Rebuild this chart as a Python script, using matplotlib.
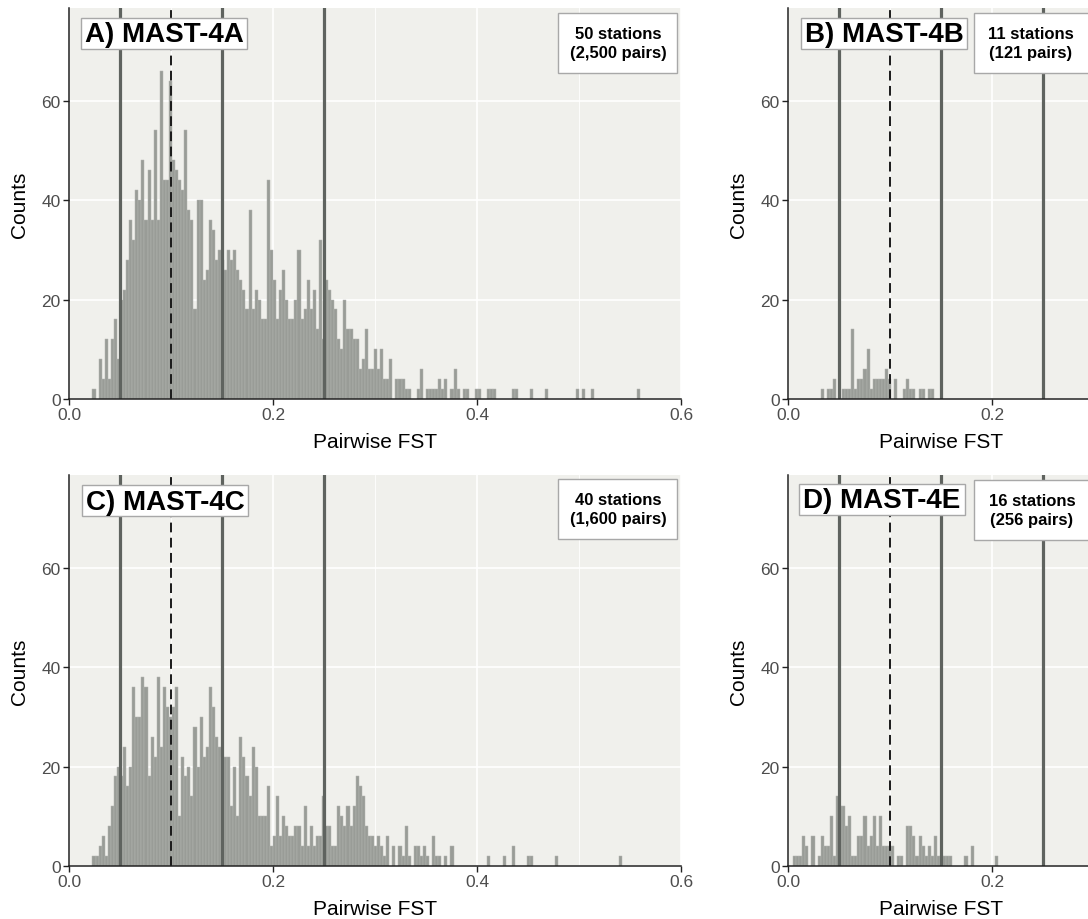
import matplotlib
matplotlib.use("Agg")
import matplotlib.pyplot as plt
from matplotlib.patches import Rectangle
import numpy as np

plt.rcParams['font.family'] = ['Liberation Sans', 'DejaVu Sans']

# Histogram binning of pairwise FST values
BIN_WIDTH = 0.003
BIN_ORIGIN = 0.002

# Reference thresholds
solid_thresholds = [0.05, 0.15, 0.25]
dashed_threshold = 0.10

# Counts per bin, starting at bin index *_first
a_first = 7
a_counts = [2, 0, 8, 4, 12, 4, 12, 16, 8, 20, 22, 28, 36, 32, 42, 40, 48, 36, 46, 36,
            54, 36, 66, 44, 44, 64, 48, 46, 44, 42, 54, 38, 36, 18, 40, 40, 24, 26, 36, 34,
            28, 30, 28, 26, 30, 28, 30, 26, 24, 22, 18, 38, 18, 22, 20, 16, 16, 44, 30, 24,
            16, 22, 26, 20, 16, 16, 20, 30, 16, 18, 24, 18, 22, 14, 32, 12, 24, 22, 20, 18,
            12, 10, 20, 14, 14, 12, 12, 6, 8, 14, 6, 6, 10, 6, 10, 4, 4, 8, 0, 4,
            4, 4, 2, 2, 0, 0, 2, 6, 0, 2, 2, 2, 2, 4, 2, 4, 0, 2, 6, 2,
            0, 2, 2, 0, 0, 2, 2, 0, 0, 2, 2, 2, 0, 0, 0, 0, 0, 2, 2, 0,
            0, 0, 0, 2, 0, 0, 0, 0, 2, 0, 0, 0, 0, 0, 0, 0, 0, 0, 2, 0,
            2, 0, 0, 2, 0, 0, 0, 0, 0, 0, 0, 0, 0, 0, 0, 0, 0, 0, 2]

b_first = 10
b_counts = [2, 0, 2, 2, 4, 0, 0, 2, 2, 2, 14, 2, 4, 4, 6, 10, 2, 4, 4, 4,
            4, 6, 4, 0, 4, 0, 0, 2, 4, 2, 2, 0, 2, 2, 0, 2, 2]

c_first = 7
c_counts = [2, 2, 4, 6, 2, 8, 12, 18, 20, 18, 24, 16, 20, 36, 30, 30, 38, 36, 18, 26,
            22, 38, 24, 36, 32, 30, 32, 36, 10, 22, 18, 20, 14, 28, 20, 30, 22, 24, 36, 32,
            26, 24, 22, 22, 22, 12, 20, 10, 26, 22, 18, 14, 24, 20, 10, 10, 10, 16, 4, 6,
            14, 6, 10, 8, 6, 6, 8, 8, 4, 12, 4, 8, 4, 6, 6, 14, 8, 8, 4, 4,
            12, 10, 8, 12, 8, 12, 18, 16, 14, 8, 6, 6, 4, 6, 4, 2, 6, 0, 4, 0,
            4, 2, 8, 2, 0, 4, 4, 2, 4, 2, 0, 6, 2, 2, 0, 2, 0, 4, 0, 0,
            0, 0, 0, 0, 0, 0, 0, 0, 0, 2, 0, 0, 0, 0, 2, 0, 0, 4, 0, 0,
            0, 0, 2, 2, 0, 0, 0, 0, 0, 0, 0, 2, 0, 0, 0, 0, 0, 0, 0, 0,
            0, 0, 0, 0, 0, 0, 0, 0, 0, 0, 0, 0, 2]

d_first = 1
d_counts = [2, 2, 2, 6, 4, 0, 6, 0, 2, 6, 4, 4, 10, 2, 14, 12, 12, 8, 10, 2,
            2, 6, 6, 10, 4, 6, 10, 4, 10, 4, 4, 4, 4, 0, 2, 2, 0, 8, 8, 6,
            2, 6, 4, 2, 4, 2, 6, 2, 2, 2, 2, 2, 0, 0, 0, 0, 2, 0, 4, 0,
            0, 0, 0, 0, 0, 0, 2]

panel_titles = ["A) MAST-4A", "B) MAST-4B", "C) MAST-4C", "D) MAST-4E"]
panel_notes = ["50 stations\n(2,500 pairs)", "11 stations\n(121 pairs)",
               "40 stations\n(1,600 pairs)", "16 stations\n(256 pairs)"]
panel_data = [(a_first, a_counts), (b_first, b_counts), (c_first, c_counts), (d_first, d_counts)]

x_label = "Pairwise FST"
y_label = "Counts"

# ---- figure layout (pixel based) ----
W, H = 1088, 920
fig = plt.figure(figsize=(W / 100, H / 100), dpi=100)
fig.patch.set_facecolor('white')


def fx(px):
    return px / W


def fy(py):
    return 1 - py / H


# left, top, width, height in pixels; xmax
layouts = [
    (69, 9, 612, 391, 0.6),
    (788, 9, 306, 391, 0.3),
    (69, 476, 612, 391, 0.6),
    (788, 476, 306, 391, 0.3),
]
YMAX = 78.6

PANEL_BG = '#F0F0EC'
BAR_FACE = '#999C97'
BAR_EDGE = '#B3B5B1'
LINE_DARK = '#5F635F'
AXIS_COL = '#222222'
TICK_LABEL = '#4D4D4D'

axes = []
for i, (l, t, w, h, xmax) in enumerate(layouts):
    ax = fig.add_axes([fx(l), fy(t + h), w / W, h / H])
    axes.append(ax)
    ax.set_facecolor(PANEL_BG)
    first, counts = panel_data[i]
    counts = np.asarray(counts, dtype=float)
    idx = np.arange(first, first + len(counts))
    lefts = BIN_ORIGIN + idx * BIN_WIDTH
    keep = counts > 0
    ax.bar(lefts[keep], counts[keep], width=BIN_WIDTH, align='edge',
           color=BAR_FACE, edgecolor=BAR_EDGE, linewidth=0.35, zorder=2)

    for xv in solid_thresholds:
        ax.axvline(xv, color=LINE_DARK, lw=2.3, zorder=3)
    ax.axvline(dashed_threshold, color='#1A1A1A', lw=1.4, ls=(0, (5.0, 2.8)), zorder=3)

    ax.set_xlim(0, xmax)
    ax.set_ylim(0, YMAX)
    ax.set_xticks([0.0, 0.2, 0.4, 0.6] if xmax > 0.5 else [0.0, 0.2])
    ax.set_xticks([0.1, 0.3, 0.5] if xmax > 0.5 else [0.1, 0.3], minor=True)
    ax.set_yticks([0, 20, 40, 60])
    ax.xaxis.set_major_formatter(matplotlib.ticker.FormatStrFormatter('%.1f'))
    ax.grid(which='major', color='white', lw=1.2, zorder=0)
    ax.grid(which='minor', axis='x', color='white', lw=0.6, zorder=0)
    ax.set_axisbelow(True)
    for s in ['top', 'right']:
        ax.spines[s].set_visible(False)
    for s in ['left', 'bottom']:
        ax.spines[s].set_color(AXIS_COL)
        ax.spines[s].set_linewidth(1.1)
        ax.spines[s].set_zorder(4)
    ax.tick_params(which='major', length=4, width=1.0, color=AXIS_COL,
                   labelsize=12.5, labelcolor=TICK_LABEL, pad=2)
    ax.tick_params(which='minor', length=0)
    ax.set_xlabel(x_label, fontsize=15, labelpad=7)
    ax.set_ylabel(y_label, fontsize=15, labelpad=9)

# ---- panel label boxes ----
title_boxes = [(81, 19, 166, 31), (801, 19, 166, 31), (82, 486, 166, 31), (799, 485, 166, 31)]
note_boxes = [(558, 14, 119, 60), (974, 14, 119, 60), (558, 480, 119, 60), (974, 481, 119, 60)]
note_centers = [618, 1031, 618, 1032]

for i in range(4):
    x0, y0, w, h = title_boxes[i]
    fig.add_artist(Rectangle((fx(x0), fy(y0 + h)), w / W, h / H, transform=fig.transFigure,
                             facecolor='white', edgecolor='#A8A8A8', lw=1.0, zorder=10))
    fig.text(fx(x0 + w / 2), fy(y0 + h / 2 + 1), panel_titles[i], ha='center', va='center',
             fontsize=20, fontweight='bold', color='black', zorder=11)

    x0, y0, w, h = note_boxes[i]
    fig.add_artist(Rectangle((fx(x0), fy(y0 + h)), w / W, h / H, transform=fig.transFigure,
                             facecolor='white', edgecolor='#A8A8A8', lw=1.0, zorder=10))
    fig.text(fx(note_centers[i]), fy(y0 + h / 2), panel_notes[i], ha='center', va='center',
             fontsize=12, fontweight='bold', color='black', linespacing=1.35, zorder=11)

fig.savefig('out.png', dpi=100)
